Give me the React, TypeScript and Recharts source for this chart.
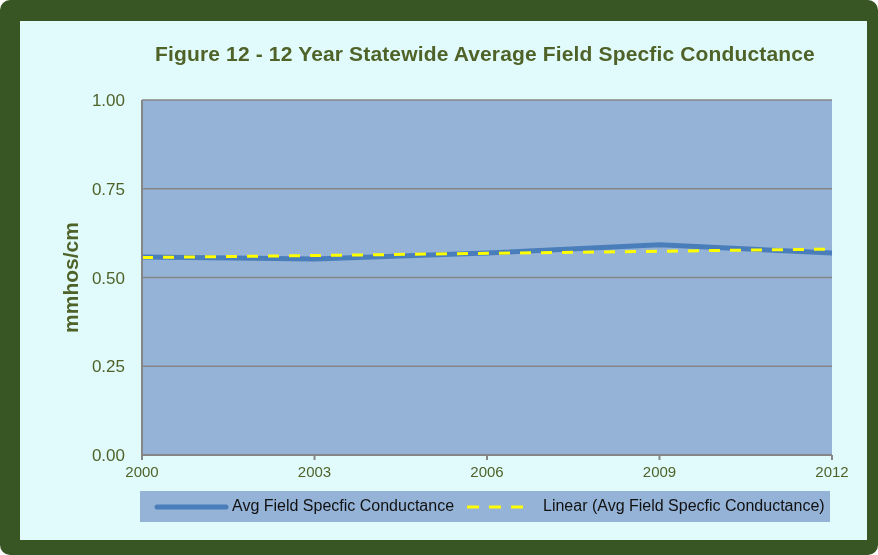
import { LineChart, Line, XAxis, YAxis, CartesianGrid } from 'recharts';

const years = [2000, 2003, 2006, 2009, 2012];
const avgConductance = [0.558, 0.552, 0.569, 0.592, 0.569];
const linearTrend = [0.556, 0.562, 0.568, 0.574, 0.58];
const yTicks = [0, 0.25, 0.5, 0.75, 1];

const chartData = years.map((year, i) => ({
  year,
  avg: avgConductance[i],
  trend: linearTrend[i],
}));

const green = '#4f6228';
const font = '"Liberation Sans", Arial, sans-serif';

export default function App() {
  return (
    <div style={{ position: 'fixed', left: 0, top: 0, width: 878, height: 555, fontFamily: font }}>
      {/* outer green frame */}
      <div style={{ position: 'absolute', left: 0, top: 0, width: 878, height: 555, background: '#375623', borderRadius: 10 }} />
      <div style={{ position: 'absolute', left: 20, top: 21, width: 847, height: 519, background: '#e1fbfd' }} />

      <div style={{ position: 'absolute', left: 0, top: 42, width: 970, textAlign: 'center', fontSize: 21, fontWeight: 'bold', letterSpacing: 0.15, color: green }}>
        Figure 12 - 12 Year Statewide Average Field Specfic Conductance
      </div>

      <div style={{ position: 'absolute', left: 0, top: 0 }}>
        <LineChart width={878} height={555} data={chartData} margin={{ top: 100, right: 46, bottom: 70, left: 0 }}>
          <CartesianGrid vertical={false} fill="#95b3d7" stroke="#868686" strokeWidth={1.5} />
          <XAxis
            dataKey="year"
            type="number"
            domain={[2000, 2012]}
            ticks={years}
            height={30}
            stroke="#868686"
            strokeWidth={2}
            tickSize={5}
            tickMargin={6}
            tick={{ fill: green, fontSize: 15, fontFamily: font }}
          />
          <YAxis
            domain={[0, 1]}
            ticks={yTicks}
            width={142}
            stroke="#868686"
            strokeWidth={2}
            tickLine={false}
            tickSize={0}
            tickMargin={17}
            tickFormatter={(v: number) => v.toFixed(2)}
            tick={{ fill: green, fontSize: 17, fontFamily: font }}
            label={{
              value: 'mmhos/cm',
              angle: -90,
              position: 'insideLeft',
              offset: 71,
              style: { fill: green, fontSize: 21, fontWeight: 'bold', fontFamily: font, textAnchor: 'middle' },
            }}
          />
          <Line dataKey="avg" stroke="#4a7ebb" strokeWidth={5} dot={false} isAnimationActive={false} />
          <Line dataKey="trend" stroke="#ffff00" strokeWidth={3} strokeDasharray="11 10" dot={false} isAnimationActive={false} />
        </LineChart>
      </div>

      {/* legend */}
      <div style={{ position: 'absolute', left: 140, top: 491, width: 690, height: 31, background: '#95b3d7', fontSize: 16, color: '#111' }}>
        <svg width={690} height={31} style={{ position: 'absolute', left: 0, top: 0 }}>
          <line x1={17} y1={16} x2={86} y2={16} stroke="#4a7ebb" strokeWidth={5} strokeLinecap="round" />
          <line x1={327} y1={16} x2={385} y2={16} stroke="#ffff00" strokeWidth={3} strokeDasharray="12 10" />
        </svg>
        <span style={{ position: 'absolute', left: 92, top: 6, whiteSpace: 'nowrap' }}>Avg Field Specfic Conductance</span>
        <span style={{ position: 'absolute', left: 403, top: 6, whiteSpace: 'nowrap' }}>Linear (Avg Field Specfic Conductance)</span>
      </div>
    </div>
  );
}
